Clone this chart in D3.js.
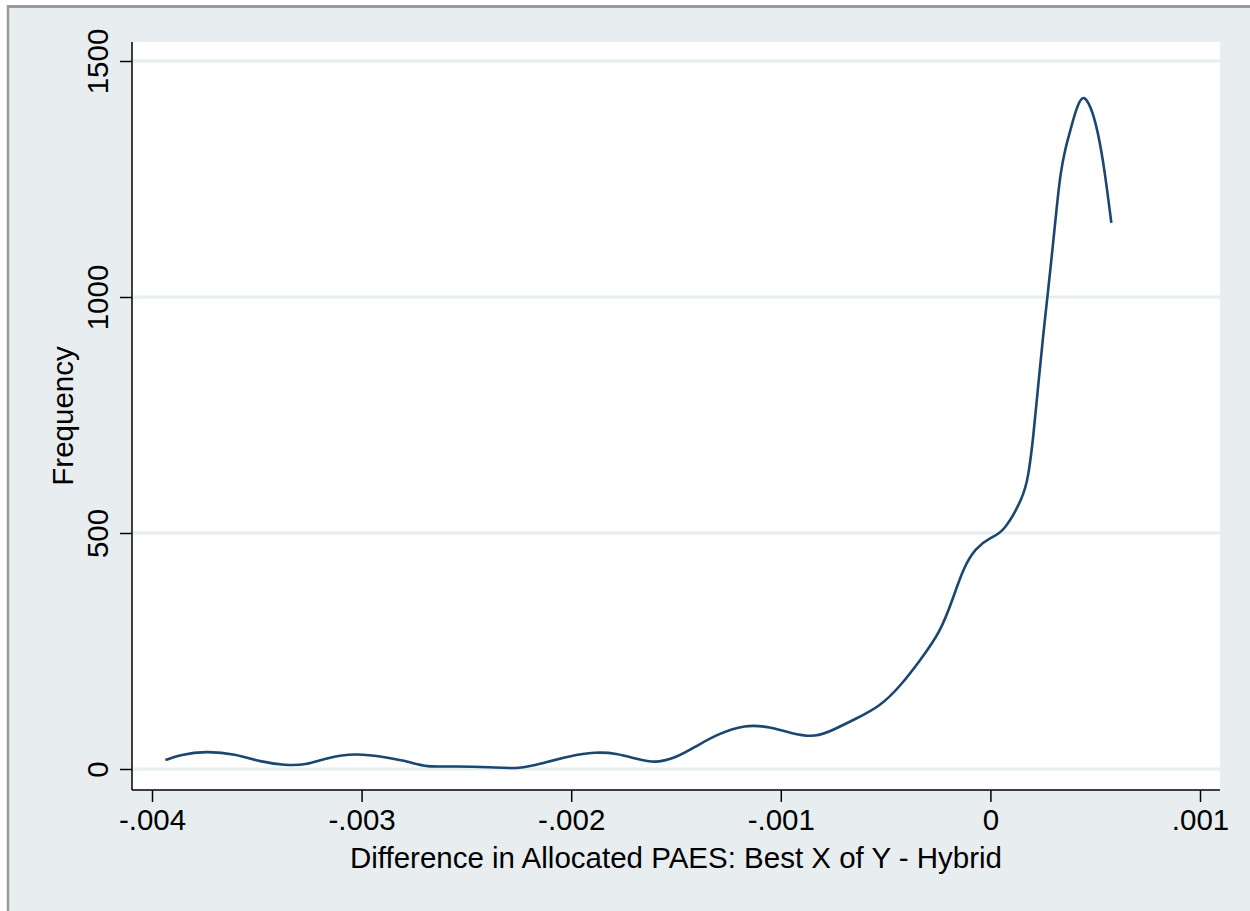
<!DOCTYPE html>
<html>
<head>
<meta charset="utf-8">
<script src="https://cdn.jsdelivr.net/npm/d3@7"></script>
<style>
  body { margin: 0; background: #fff; }
  text { font-family: "Liberation Sans", Arial, Helvetica, sans-serif; fill: #000; }
</style>
</head>
<body>
<div class="kdensity"></div>
<script>
// values (difference, frequency)
var diffs = [-0.003936, -0.003865, -0.003745, -0.003602, -0.003483, -0.003364, -0.003268, -0.003173,
  -0.003030, -0.002886, -0.002767, -0.002696, -0.002552, -0.002385, -0.002242, -0.002147,
  -0.002004, -0.001885, -0.001789, -0.001670, -0.001598, -0.001503, -0.001407, -0.001312,
  -0.001169, -0.001050, -0.000954, -0.000835, -0.000740, -0.000644, -0.000525, -0.000429,
  -0.000334, -0.000239, -0.000181, -0.000129, -0.000072, 0, 0.000062, 0.000157, 0.000181,
  0.000205, 0.000229, 0.000253, 0.000272, 0.000296, 0.000315, 0.000334, 0.000358, 0.000382,
  0.000410, 0.000439, 0.000468, 0.000501, 0.000539, 0.000577];
var freqs = [19, 30, 38, 32, 15, 8, 8, 23,
  34, 25, 15, 4, 6, 4, 0, 11,
  28, 36, 34, 19, 13, 23, 47, 72,
  95, 89, 76, 66, 85, 106, 133, 176,
  231, 290, 358, 426, 468, 491, 500, 576, 619,
  703, 818, 924, 1000, 1100, 1184, 1263, 1316, 1354,
  1400, 1428, 1414, 1375, 1290, 1157];

var xTicks = [-0.004, -0.003, -0.002, -0.001, 0, 0.001];
var xTickLabels = ["-.004", "-.003", "-.002", "-.001", "0", ".001"];
var yTicks = [0, 500, 1000, 1500];
var yTickLabels = ["0", "500", "1000", "1500"];

var width = 1250, height = 911;
var plot = { left: 132, right: 1220, top: 42, bottom: 790 };
var fontSize = 29.5;

var svg = d3.select(".kdensity")
  .append("svg")
  .attr("width", width)
  .attr("height", height);

// graph region
svg.append("rect").attr("x", 0).attr("y", 0).attr("width", width).attr("height", height).attr("fill", "#fff");
svg.append("rect").attr("x", 8).attr("y", 7).attr("width", width - 8).attr("height", height - 7).attr("fill", "#e8eeef");
svg.append("line").attr("x1", 8).attr("x2", width).attr("y1", 6.5).attr("y2", 6.5)
  .attr("stroke", "#9a9a9a").attr("stroke-width", 3);
svg.append("line").attr("x1", 8).attr("x2", 8).attr("y1", 5).attr("y2", height)
  .attr("stroke", "#9a9a9a").attr("stroke-width", 2.5);

// plot region
svg.append("rect")
  .attr("x", plot.left).attr("y", plot.top)
  .attr("width", plot.right - plot.left).attr("height", plot.bottom - plot.top)
  .attr("fill", "#fff");

var x = d3.scaleLinear().domain([-0.004, 0.001]).range([152, 1200]);
var y = d3.scaleLinear().domain([0, 1500]).range([769, 61]);

// grid lines
svg.append("g").selectAll("line")
  .data(yTicks)
  .enter().append("line")
    .attr("x1", plot.left + 1).attr("x2", plot.right)
    .attr("y1", function(d) { return y(d); })
    .attr("y2", function(d) { return y(d); })
    .attr("stroke", "#e6eeef")
    .attr("stroke-width", 3);

// axes
var xAxis = d3.axisBottom(x)
  .tickValues(xTicks)
  .tickSize(12)
  .tickPadding(7)
  .tickFormat(function(d, i) { return xTickLabels[i]; });

var gx = svg.append("g")
  .attr("transform", "translate(0," + plot.bottom + ")")
  .call(xAxis);
gx.select(".domain").remove();
gx.append("line").attr("x1", plot.left).attr("x2", plot.right).attr("stroke", "#000").attr("stroke-width", 1.5);
gx.selectAll(".tick line").attr("stroke", "#000").attr("stroke-width", 1.5);
gx.selectAll(".tick text").attr("font-size", fontSize).attr("fill", "#000");

var yAxis = d3.axisLeft(y)
  .tickValues(yTicks)
  .tickSize(12)
  .tickFormat(function(d, i) { return yTickLabels[i]; });

var gy = svg.append("g")
  .attr("transform", "translate(" + plot.left + ",0)")
  .call(yAxis);
gy.select(".domain").remove();
gy.append("line").attr("y1", plot.top).attr("y2", plot.bottom).attr("stroke", "#000").attr("stroke-width", 1.5);
gy.selectAll(".tick line").attr("stroke", "#000").attr("stroke-width", 1.5);
gy.selectAll(".tick text")
  .attr("font-size", fontSize)
  .attr("fill", "#000")
  .attr("x", 0)
  .attr("dy", 0)
  .attr("text-anchor", "middle")
  .attr("transform", "translate(-24,0) rotate(-90)");

// axis titles
svg.append("text")
  .attr("x", (plot.left + plot.right) / 2)
  .attr("y", 868)
  .attr("text-anchor", "middle")
  .attr("font-size", fontSize)
  .text("Difference in Allocated PAES: Best X of Y - Hybrid");

svg.append("text")
  .attr("transform", "translate(73,416) rotate(-90)")
  .attr("text-anchor", "middle")
  .attr("font-size", fontSize)
  .text("Frequency");

// density line
var line = d3.line()
  .x(function(d) { return x(d[0]); })
  .y(function(d) { return y(d[1]); })
  .curve(d3.curveBasis);

svg.append("path")
  .datum(d3.zip(diffs, freqs))
  .attr("fill", "none")
  .attr("stroke", "#1a476f")
  .attr("stroke-width", 2.6)
  .attr("d", line);
</script>
</body>
</html>
